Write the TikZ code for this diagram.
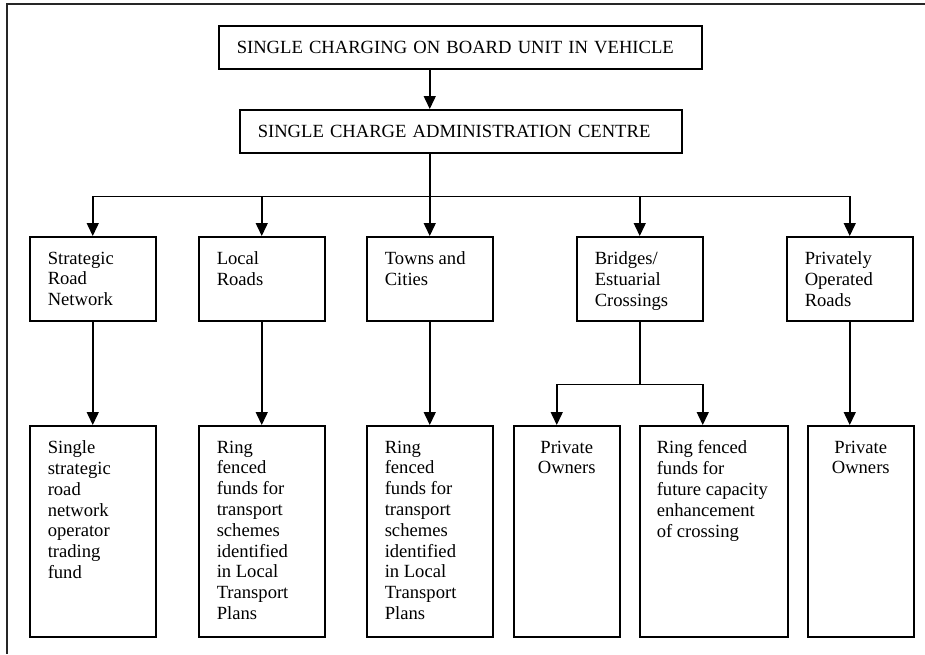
\documentclass[tikz,border=0pt]{standalone}
\usepackage{fontspec}
\setmainfont{Liberation Serif}
\usetikzlibrary{arrows.meta}
\newcommand{\cellbox}[3]{\parbox[t][#1][t]{#2}{\raggedright #3}}

\begin{document}
\begin{tikzpicture}[x=1pt, y=1pt, font=\fontsize{18.6pt}{20.8pt}\selectfont,
  box/.style={draw, line width=1.5pt, anchor=north west, inner xsep=18pt, inner ysep=15pt},
  head/.style={box, inner ysep=0pt, minimum height=43pt, align=left},
  link/.style={line width=1.5pt, -{Triangle[length=13pt, width=12pt]}}]
\useasboundingbox (0,0) rectangle (925,-654);
\draw[line width=2pt, black!85] (925,-4) -- (7,-4) -- (7,-654);

\node[head, text width=447pt] (obu) at (218,-25) {SINGLE CHARGING ON BOARD UNIT IN VEHICLE};
\node[head, text width=406pt] (cac) at (239,-109) {SINGLE CHARGE ADMINISTRATION CENTRE};

\node[box] (srn) at (29,-236) {\cellbox{54pt}{90pt}{Strategic\\Road\\Network}};
\node[box] (local) at (198,-236) {\cellbox{54pt}{90pt}{Local\\Roads}};
\node[box] (towns) at (366,-236) {\cellbox{54pt}{90pt}{Towns and\\Cities}};
\node[box] (bridges) at (576,-236) {\cellbox{54pt}{90pt}{Bridges/\\Estuarial\\Crossings}};
\node[box] (proads) at (786,-236) {\cellbox{54pt}{90pt}{Privately\\Operated\\Roads}};

\node[box] (single) at (29,-425) {\cellbox{181pt}{90pt}{Single\\strategic\\road\\network\\operator\\trading\\fund}};
\node[box] (localfund) at (198,-425) {\cellbox{181pt}{90pt}{Ring\\fenced\\funds for\\transport\\schemes\\identified\\in Local\\Transport\\Plans}};
\node[box] (townfund) at (366,-425) {\cellbox{181pt}{90pt}{Ring\\fenced\\funds for\\transport\\schemes\\identified\\in Local\\Transport\\Plans}};
\node[box] (owners1) at (513,-425) {\cellbox{181pt}{70pt}{\centering Private\\Owners}};
\node[box, inner xsep=17pt] (crossfund) at (639,-425) {\cellbox{181pt}{114pt}{Ring fenced\\funds for\\future capacity\\enhancement\\of crossing}};
\node[box] (owners2) at (807,-425) {\cellbox{181pt}{70pt}{\centering Private\\Owners}};

\draw[link] (obu.south -| towns.north) -- (cac.north -| towns.north);
\draw[link] (cac.south -| towns.north) -- (towns.north);
\foreach \n in {srn,local,bridges,proads}
  \draw[link] (cac.south -| towns.north) -- ++(0,-43) -| (\n.north);
\draw[link] (srn.south) -- (single.north);
\draw[link] (local.south) -- (localfund.north);
\draw[link] (towns.south) -- (townfund.north);
\draw[link] (bridges.south) -- ++(0,-63) -| ([xshift=-10pt]owners1.north);
\draw[link] (bridges.south) -- ++(0,-63) -| ([xshift=-11pt]crossfund.north);
\draw[link] (proads.south) -- (proads.south |- owners2.north);
\end{tikzpicture}
\end{document}
